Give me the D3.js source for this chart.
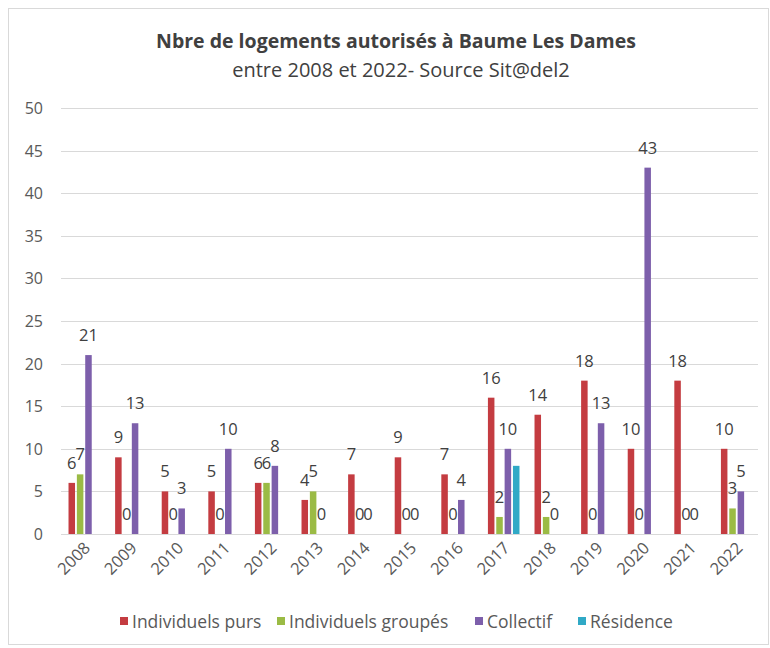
<!DOCTYPE html>
<meta charset="utf-8">
<style>
    body { margin: 0; background: #fff; }
    text { font-family: "Open Sans", sans-serif; fill: #595959; }
</style>
<body>
<script src="https://d3js.org/d3.v7.min.js"></script>
<script>
    // data
    const years = ["2008", "2009", "2010", "2011", "2012", "2013", "2014", "2015",
                   "2016", "2017", "2018", "2019", "2020", "2021", "2022"];
    const individuelsPurs    = [6, 9, 5, 5, 6, 4, 7, 9, 7, 16, 14, 18, 10, 18, 10];
    const individuelsGroupes = [7, 0, 0, 0, 6, 5, 0, 0, 0, 2, 2, 0, 0, 0, 3];
    const collectif          = [21, 13, 3, 10, 8, 0, 0, 0, 4, 10, 0, 13, 43, 0, 5];
    const residence          = [null, null, null, null, null, null, null, null, null, 8, null, null, null, null, null];
    const seriesNames = ["Individuels purs", "Individuels groupés", "Collectif", "Résidence"];
    const seriesColors = ["#c43c41", "#9bbb45", "#7d5fab", "#30a9c6"];
    const yTicks = [0, 5, 10, 15, 20, 25, 30, 35, 40, 45, 50];

    const series = [individuelsPurs, individuelsGroupes, collectif, residence];
    const showLabels = [true, true, true, false];

    const W = 770, H = 648;
    const svg = d3.select("body").append("svg")
        .attr("width", W)
        .attr("height", H);

    // outer chart border
    svg.append("rect")
        .attr("x", 8.5).attr("y", 8.5)
        .attr("width", W - 10).attr("height", H - 12)
        .attr("fill", "#fff")
        .attr("stroke", "#d9d9d9");

    // titles
    svg.append("text")
        .attr("x", 396).attr("y", 48)
        .attr("text-anchor", "middle")
        .style("font-size", "19.5px").style("font-weight", "bold")
        .style("fill", "#404040")
        .text("Nbre de logements autorisés à Baume Les Dames");
    svg.append("text")
        .attr("x", 401).attr("y", 77)
        .attr("text-anchor", "middle")
        .style("font-size", "20px")
        .style("fill", "#404040")
        .text("entre 2008 et 2022- Source Sit@del2");

    // scales
    const x0 = d3.scaleBand().domain(years).range([61, 760]).padding(0);
    const x1 = d3.scaleBand().domain(d3.range(4))
        .range([0, x0.bandwidth()])
        .paddingInner(0.22).paddingOuter(0.9);
    const y = d3.scaleLinear().domain([0, 50]).range([534, 108]);

    // gridlines
    svg.append("g").selectAll("line")
        .data(yTicks)
        .join("line")
        .attr("x1", 61).attr("x2", 758)
        .attr("y1", d => Math.round(y(d)) + 0.5)
        .attr("y2", d => Math.round(y(d)) + 0.5)
        .attr("stroke", "#d9d9d9");

    // y axis labels
    svg.append("g").selectAll("text")
        .data(yTicks)
        .join("text")
        .attr("x", 43)
        .attr("y", d => y(d) + 6)
        .attr("text-anchor", "end")
        .style("font-size", "16px")
        .text(d => d);

    // x axis labels, rotated
    svg.append("g").selectAll("text")
        .data(years)
        .join("text")
        .attr("text-anchor", "end")
        .attr("transform", d => "translate(" + (x0(d) + x0.bandwidth() / 2 + 7) + ",549) rotate(-45)")
        .style("font-size", "16.5px")
        .text(d => d);

    // bars
    series.forEach((vals, s) => {
        const g = svg.append("g");
        const pts = years.map((yr, i) => ({yr: yr, v: vals[i]})).filter(d => d.v !== null);
        g.selectAll("rect")
            .data(pts)
            .join("rect")
            .attr("x", d => x0(d.yr) + x1(s))
            .attr("width", x1.bandwidth())
            .attr("y", d => y(d.v))
            .attr("height", d => y(0) - y(d.v))
            .attr("fill", seriesColors[s]);
        if (showLabels[s]) {
            g.selectAll("text")
                .data(pts)
                .join("text")
                .attr("x", d => x0(d.yr) + x1(s) + x1.bandwidth() / 2)
                .attr("y", d => y(d.v) - 14)
                .attr("text-anchor", "middle")
                .style("font-size", "16.5px")
                .style("fill", "#404040")
                .text(d => d.v);
        }
    });

    // legend
    const legendX = [120, 277, 475, 578];
    const legend = svg.append("g").selectAll("g")
        .data(seriesNames)
        .join("g")
        .attr("transform", (d, i) => "translate(" + legendX[i] + ",622)");
    legend.append("rect")
        .attr("x", 0).attr("y", -5)
        .attr("width", 8).attr("height", 8)
        .attr("fill", (d, i) => seriesColors[i]);
    legend.append("text")
        .attr("x", 12).attr("y", 5.5)
        .style("font-size", "17.5px")
        .text(d => d);
</script>
</body>
